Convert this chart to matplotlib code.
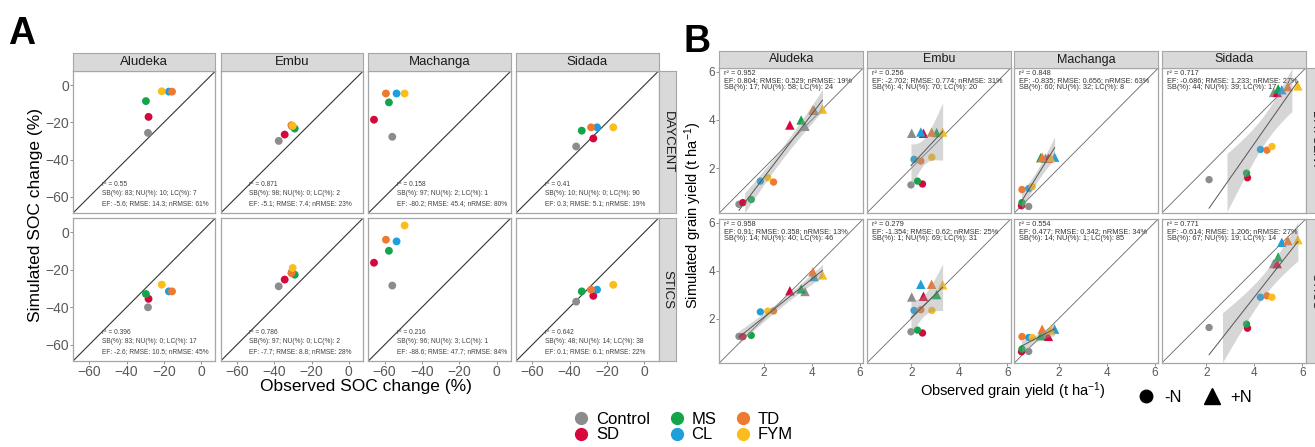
import numpy as np
import matplotlib.pyplot as plt
from matplotlib.lines import Line2D

plt.rcParams['font.family'] = ['Liberation Sans', 'DejaVu Sans']
plt.rcParams['mathtext.fontset'] = 'custom'
plt.rcParams['mathtext.rm'] = 'Liberation Sans'
plt.rcParams['mathtext.it'] = 'Liberation Sans:italic'

sites = ["Aludeka", "Embu", "Machanga", "Sidada"]
models = ["DAYCENT", "STICS"]
treatments = ["Control", "SD", "MS", "CL", "TD", "FYM"]
colors = ["#8c8c8c", "#d5073b", "#14a54b", "#1c9fdc", "#ee7a32", "#fbbd1c"]

# ---- panel A: SOC change (%) ; one row per site, one value per treatment
soc_obs = [[-28.5, -28.2, -29.6, -17.3, -15.6, -21.1],
           [-37.6, -34.4, -29.0, -30.5, -30.8, -30.1],
           [-55.9, -65.7, -57.7, -53.6, -59.3, -49.3],
           [-36.5, -27.3, -33.5, -25.3, -28.5, -16.6]]
soc_daycent = [[-25.6, -17.0, -8.5, -3.4, -3.4, -3.2],
               [-29.9, -26.5, -23.3, -22.0, -21.5, -21.8],
               [-27.7, -18.5, -9.2, -4.4, -4.4, -4.4],
               [-32.9, -28.6, -24.4, -22.6, -22.6, -22.6]]
soc_stics = [[-40.0, -35.5, -32.9, -31.5, -31.5, -27.9],
             [-28.8, -25.2, -22.6, -21.2, -21.7, -19.0],
             [-28.4, -16.2, -9.8, -4.8, -3.9, 3.7],
             [-37.0, -33.9, -31.5, -30.6, -30.6, -28.0]]
soc_r2 = {"DAYCENT": ["0.55", "0.871", "0.158", "0.41"],
          "STICS": ["0.396", "0.786", "0.216", "0.642"]}
soc_sb = {"DAYCENT": [(83, 10, 7), (98, 0, 2), (97, 2, 1), (10, 0, 90)],
          "STICS": [(83, 0, 17), (97, 0, 2), (96, 3, 1), (48, 14, 38)]}
soc_ef = {"DAYCENT": [("-5.6", "14.3", 61), ("-5.1", "7.4", 23), ("-80.2", "45.4", 80), ("0.3", "5.1", 19)],
          "STICS": [("-2.6", "10.5", 45), ("-7.7", "8.8", 28), ("-88.6", "47.7", 84), ("0.1", "6.1", 22)]}

# ---- panel B: grain yield (t/ha), -N and +N
gy_obs_noN = [[0.97, 1.13, 1.48, 1.86, 2.41, 2.17],
              [1.99, 2.47, 2.26, 2.12, 2.40, 2.86],
              [0.75, 0.45, 0.47, 0.75, 0.47, 0.90],
              [2.12, 3.72, 3.68, 4.26, 4.53, 4.74]]
gy_obs_N = [[3.72, 3.09, 3.56, 4.10, 4.05, 4.45],
            [2.02, 2.51, 3.06, 2.40, 2.85, 3.31],
            [1.45, 1.57, 1.25, 1.83, 1.31, 1.66],
            [4.81, 4.96, 5.00, 5.15, 5.40, 5.82]]
gy_daycent_noN = [[0.51, 0.58, 0.71, 1.47, 1.43, 1.61],
                  [1.31, 1.35, 1.47, 2.37, 2.30, 2.46],
                  [0.42, 0.45, 0.58, 1.16, 1.12, 1.24],
                  [1.53, 1.61, 1.80, 2.78, 2.75, 2.90]]
gy_daycent_N = [[3.74, 3.79, 4.00, 4.40, 4.42, 4.45],
                [3.45, 3.45, 3.48, 3.50, 3.50, 3.50],
                [2.42, 2.42, 2.44, 2.46, 2.46, 2.44],
                [5.14, 5.14, 5.29, 5.25, 5.38, 5.41]]
gy_stics_noN = [[1.26, 1.25, 1.30, 2.28, 2.32, 2.31],
                [1.45, 1.40, 1.52, 2.34, 2.37, 2.34],
                [0.63, 0.62, 0.73, 1.21, 1.25, 1.21],
                [1.63, 1.60, 1.77, 2.89, 2.95, 2.89]]
gy_stics_N = [[3.13, 3.16, 3.24, 3.75, 3.95, 3.82],
              [2.90, 2.93, 3.00, 3.43, 3.43, 3.41],
              [1.30, 1.26, 1.29, 1.56, 1.56, 1.53],
              [4.29, 4.29, 4.57, 5.18, 5.25, 5.29]]
gy_r2 = {"DAYCENT": ["0.952", "0.256", "0.848", "0.717"],
         "STICS": ["0.958", "0.279", "0.554", "0.771"]}
gy_ef = {"DAYCENT": [("0.804", "0.529", 19), ("-2.702", "0.774", 31), ("-0.835", "0.656", 63), ("-0.686", "1.233", 27)],
         "STICS": [("0.91", "0.358", 13), ("-1.354", "0.62", 25), ("0.477", "0.342", 34), ("-0.614", "1.206", 27)]}
gy_sb = {"DAYCENT": [(17, 58, 24), (4, 70, 20), (60, 32, 8), (44, 39, 17)],
         "STICS": [(14, 40, 46), (1, 69, 31), (14, 1, 85), (67, 19, 14)]}

soc_sim = {"DAYCENT": soc_daycent, "STICS": soc_stics}
gy_sim = {"DAYCENT": (gy_daycent_noN, gy_daycent_N), "STICS": (gy_stics_noN, gy_stics_N)}

W, H = 1315, 447
fig = plt.figure(figsize=(W / 100, H / 100), dpi=100)


def px_axes(x0, y0, x1, y1):
    return fig.add_axes([x0 / W, 1 - y1 / H, (x1 - x0) / W, (y1 - y0) / H])


def strip(x0, y0, x1, y1, text, rot=0, size=9):
    s = px_axes(x0, y0, x1, y1)
    s.set_facecolor('#d9d9d9')
    s.set_xticks([])
    s.set_yticks([])
    for sp in s.spines.values():
        sp.set_color('#a6a6a6')
        sp.set_linewidth(0.8)
    s.text(0.5, 0.5, text, rotation=rot, ha='center', va='center',
           fontsize=size, color='#1a1a1a', transform=s.transAxes)


def style_panel(ax, lim, ticks, left, bottom, tsize):
    ax.set_xlim(lim)
    ax.set_ylim(lim)
    ax.set_xticks(ticks)
    ax.set_yticks(ticks)
    ax.tick_params(length=2, width=0.6, color='#7f7f7f', labelsize=tsize,
                   labelcolor='#595959', pad=1,
                   labelleft=left, labelbottom=bottom, left=left, bottom=bottom)
    for sp in ax.spines.values():
        sp.set_color('#a6a6a6')
        sp.set_linewidth(0.9)


def lm_band(x, y, xs):
    n = len(x)
    b, a = np.polyfit(x, y, 1)
    fit = a + b * xs
    s = np.sqrt(np.sum((y - (a + b * x)) ** 2) / (n - 2))
    se = s * np.sqrt(1 / n + (xs - x.mean()) ** 2 / np.sum((x - x.mean()) ** 2))
    return fit, fit - 2.228 * se, fit + 2.228 * se


# ================= Panel A =================
limA = (-68.7, 7.7)
rowsA = [(71, 213), (218, 361)]
for r, model in enumerate(models):
    y0, y1 = rowsA[r]
    for c, site in enumerate(sites):
        x0 = 73 + c * 147.7
        x1 = x0 + 142.5
        ax = px_axes(x0, y0, x1, y1)
        ax.plot(limA, limA, color='#333333', lw=0.8, zorder=1)
        ax.scatter(soc_obs[c], soc_sim[model][c], c=colors, s=32, zorder=3, linewidths=0)
        style_panel(ax, limA, [-60, -40, -20, 0], c == 0, r == 1, 10)
        sb, nu, lc = soc_sb[model][c]
        ef, rmse, nr = soc_ef[model][c]
        txt = (f"r\u00b2 = {soc_r2[model][c]}\n"
               f"SB(%): {sb}; NU(%): {nu}; LC(%): {lc}\n"
               f"EF: {ef}; RMSE: {rmse}; nRMSE: {nr}%")
        ax.text(0.2, 0.045, txt, transform=ax.transAxes, fontsize=4.8,
                color='#404040', va='bottom', ha='left', linespacing=1.45)
        if r == 0:
            strip(x0, 53, x1, 71, site, size=9.5)
    strip(659, y0, 676, y1, model, rot=270, size=9.5)

fig.text(36 / W, 1 - 215 / H, "Simulated SOC change (%)", rotation=90,
         ha='center', va='center', fontsize=12.5)
fig.text(366 / W, 1 - 387 / H, "Observed SOC change (%)",
         ha='center', va='center', fontsize=12.5)
fig.text(8 / W, 1 - 34 / H, "A", fontsize=27, fontweight='bold', va='center', ha='left')

# ================= Panel B =================
limB = (0.15, 6.15)
rowsB = [(68, 213), (219, 363)]
for r, model in enumerate(models):
    y0, y1 = rowsB[r]
    sim_noN, sim_N = gy_sim[model]
    for c, site in enumerate(sites):
        x0 = 719.3 + c * 147.5
        x1 = x0 + 144
        ax = px_axes(x0, y0, x1, y1)
        ax.plot(limB, limB, color='#666666', lw=0.6, zorder=1)
        ax.scatter(gy_obs_noN[c], sim_noN[c], c=colors, s=28, marker='o', zorder=3, linewidths=0)
        ax.scatter(gy_obs_N[c], sim_N[c], c=colors, s=46, marker='^', zorder=3, linewidths=0)
        x = np.array(gy_obs_noN[c] + gy_obs_N[c])
        y = np.array(sim_noN[c] + sim_N[c])
        xs = np.linspace(x.min(), x.max(), 120)
        fit, lo, hi = lm_band(x, y, xs)
        ok = (lo >= limB[0]) & (hi <= limB[1])
        ax.fill_between(xs, lo, hi, where=ok, color='#999999', alpha=0.4,
                        linewidth=0, zorder=4)
        inb = (fit >= limB[0]) & (fit <= limB[1])
        ax.plot(xs[inb], fit[inb], color='#555555', lw=0.7, zorder=5)
        style_panel(ax, limB, [2, 4, 6], c == 0, r == 1, 8.5)
        sb, nu, lc = gy_sb[model][c]
        ef, rmse, nr = gy_ef[model][c]
        txt = (f"r\u00b2 = {gy_r2[model][c]}\n"
               f"EF: {ef}; RMSE: {rmse}; nRMSE: {nr}%\n"
               f"SB(%): {sb}; NU(%): {nu}; LC(%): {lc}")
        ax.text(0.035, 0.985, txt, transform=ax.transAxes, fontsize=5.3,
                color='#333333', va='top', ha='left', linespacing=0.95, zorder=6)
        if r == 0:
            strip(x0, 51, x1, 68, site, size=9)
    strip(1306, y0, 1324, y1, model, rot=270, size=9)

fig.text(693 / W, 1 - 215 / H, r"Simulated grain yield (t ha$^{-1}$)", rotation=90,
         ha='center', va='center', fontsize=10.5)
fig.text(1013 / W, 1 - 391 / H, r"Observed grain yield (t ha$^{-1}$)",
         ha='center', va='center', fontsize=10.5)
fig.text(683 / W, 1 - 42 / H, "B", fontsize=27, fontweight='bold', va='center', ha='left')

# ================= legends =================
handles = [Line2D([], [], marker='o', ls='', color=col, markersize=8.5) for col in colors]
fig.legend(handles, treatments, ncol=3, loc='center', bbox_to_anchor=(682 / W, 1 - 427 / H),
           frameon=False, fontsize=12, handletextpad=0.3, columnspacing=1.0,
           labelspacing=0.05, handlelength=1.2, borderpad=0)
nh = [Line2D([], [], marker='o', ls='', color='black', markersize=9),
      Line2D([], [], marker='^', ls='', color='black', markersize=11)]
fig.legend(nh, ["-N", "+N"], ncol=2, loc='center', bbox_to_anchor=(1194 / W, 1 - 397 / H),
           frameon=False, fontsize=12, handletextpad=0.5, columnspacing=1.2,
           handlelength=1.2, borderpad=0)

fig.savefig("out.png", dpi=100)
